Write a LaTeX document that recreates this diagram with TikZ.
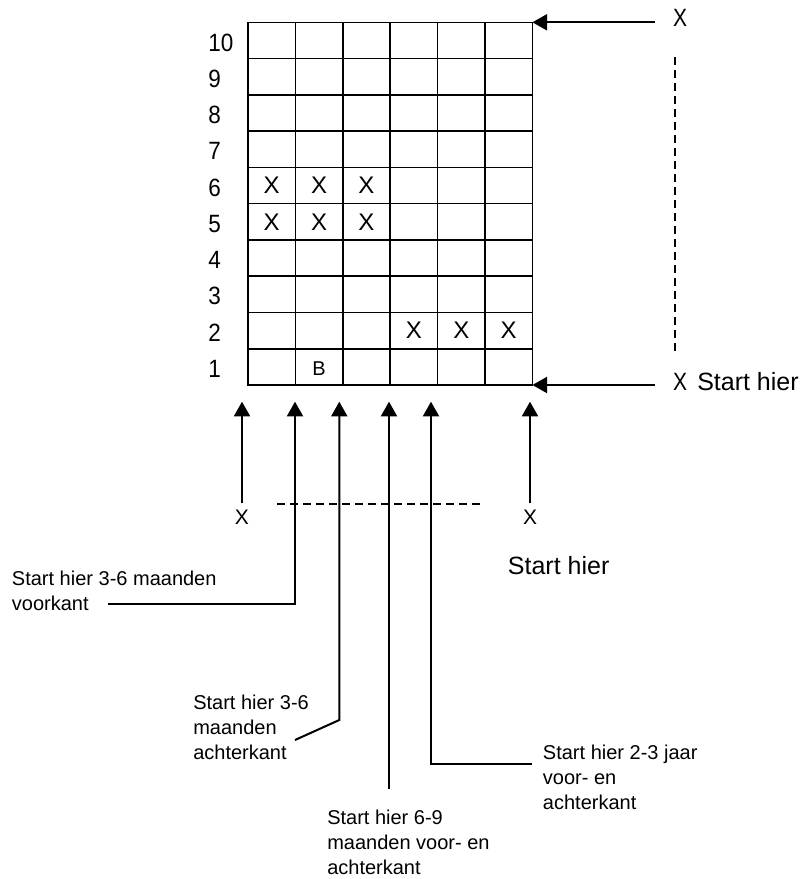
\documentclass[tikz,border=0pt]{standalone}
\usepackage{fontspec}
\setmainfont{Liberation Sans}
\newfontfamily\narrowfont[FakeStretch=0.9]{Liberation Sans}
\newfontfamily\narrowerfont[FakeStretch=0.84]{Liberation Sans}
\usetikzlibrary{arrows.meta}

\begin{document}
\begin{tikzpicture}[x=0.75pt,y=-0.75pt,
  gridline/.style={line width=1.2pt,line cap=rect},
  arr/.style={line width=1.5pt,-{Triangle[length=11pt,width=12pt]}},
  dashline/.style={line width=1pt,dash pattern=on 6pt off 3.75pt},
  rowlab/.style={anchor=west,inner sep=0pt,font=\narrowfont\fontsize{18.75}{22}\selectfont},
  cellx/.style={inner sep=0pt,font=\fontsize{18}{21}\selectfont},
  bigx/.style={inner sep=0pt,font=\narrowerfont\fontsize{18.75}{22}\selectfont},
  smallx/.style={inner sep=0pt,font=\fontsize{15.75}{19}\selectfont},
  bigtext/.style={anchor=west,inner sep=0pt,font=\fontsize{18.75}{22}\selectfont},
  note/.style={anchor=north west,inner sep=0pt,align=left,font=\fontsize{15}{18.75}\selectfont}]
\useasboundingbox (0,0) rectangle (805,879);
% raster
\foreach \i in {0,...,6} \draw[gridline] ({248+47.4*\i},22.3) -- ({248+47.4*\i},385);
\foreach \j in {0,...,10} \draw[gridline] (248,{22.3+36.27*\j}) -- (532.4,{22.3+36.27*\j});
\foreach \r in {1,...,10} \node[rowlab] (row\r) at (208,{387-36.27*(\r-0.5)}) {\r};
\foreach \r/\c in {6/1,6/2,6/3,5/1,5/2,5/3,2/4,2/5,2/6}
  \node[cellx] (cell-\r-\c) at ({248+47.4*(\c-0.5)},{385-36.27*(\r-0.5)}) {X};
\node[inner sep=0pt,font=\fontsize{15}{18}\selectfont] (cellB) at ({248+47.4*1.5},369) {B};
\coordinate (gridTR) at (532.4,22.3);
\coordinate (gridBR) at (532.4,385);
% rechts
\node[bigx] (topX) at (680,18.3) {X};
\node[bigx] (botX) at (680,381.7) {X};
\node[bigtext] (botStart) at (697,381.7) {Start hier};
\coordinate (topEnd) at (655,22.3);
\coordinate (botEnd) at (655,385);
\draw[arr] (topEnd) -- (gridTR);
\draw[arr] (botEnd) -- (gridBR);
\draw[dashline] (675,57) -- (675,352);
% onder
\node[smallx] (leftX) at (242,517.5) {X};
\node[smallx] (rightX) at (530,517.5) {X};
\node[bigtext] (rightStart) at (507.7,566) {Start hier};
\coordinate (tip1) at (242,401.7);
\coordinate (tip2) at (295,401.7);
\coordinate (tip3) at (339.3,401.7);
\coordinate (tip4) at (389,401.7);
\coordinate (tip5) at (431,401.7);
\coordinate (tip6) at (530,401.7);
\draw[arr] ([yshift=5pt]leftX.north) -- (tip1);
\draw[arr] ([yshift=5pt]rightX.north) -- (tip6);
\draw[dashline] (277,504) -- (485,504);
\node[note] (voorkant) at (11.7,571) {Start hier 3-6 maanden\\voorkant};
\node[note] (achter36) at (193,695) {Start hier 3-6\\maanden\\achterkant};
\node[note] (beide69) at (327,810) {Start hier 6-9\\maanden voor- en\\achterkant};
\node[note] (beide23) at (542.7,745) {Start hier 2-3 jaar\\voor- en\\achterkant};
\coordinate (end2) at (108,604);
\coordinate (bend2) at (295,604);
\coordinate (end3) at (295,740);
\coordinate (bend3) at (339.3,720);
\coordinate (end4) at (389,789);
\coordinate (end5) at (531.7,764);
\coordinate (bend5) at (431,764);
\draw[arr] (end2) -- (bend2) -- (tip2);
\draw[arr] (end3) -- (bend3) -- (tip3);
\draw[arr] (end4) -- (tip4);
\draw[arr] (end5) -- (bend5) -- (tip5);
\end{tikzpicture}
\end{document}
